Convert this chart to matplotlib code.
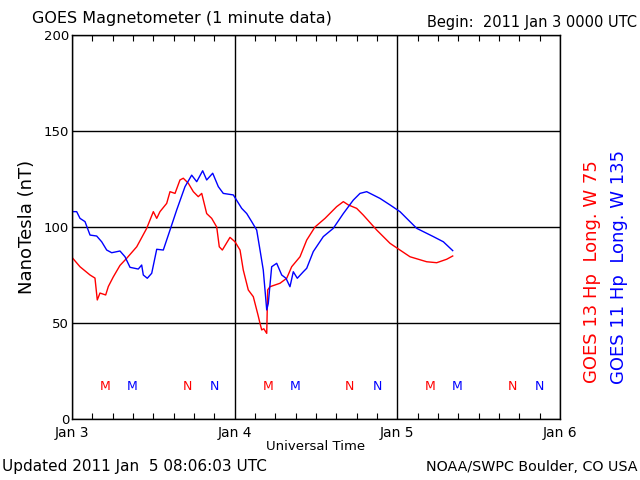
import matplotlib
matplotlib.use("Agg")
import matplotlib.pyplot as plt
import numpy as np

# hours since 2011 Jan 3 00:00 UTC
g13_hours = [0.04, 1.18, 2.66, 3.39, 3.73, 4.13, 4.97, 5.36, 6.09, 7.08, 8.07, 9.55, 11.02, 12.0, 12.5,
             12.98, 13.97, 14.46, 15.2, 15.93, 16.42, 17.16, 17.9, 18.63, 19.14, 19.87, 20.61, 21.35,
             21.73, 22.18, 23.31, 24.05, 24.79, 25.27, 26.01, 26.75, 27.44, 27.74, 27.99, 28.3, 28.73,
             28.87, 29.21, 30.69, 31.68, 32.41, 33.64, 34.63, 35.85, 37.33, 39.05, 40.03, 40.77, 42.0,
             42.98, 44.96, 46.92, 48.39, 49.87, 52.33, 53.81, 55.28, 56.17]
g13_values = [84, 79.3, 75, 73.4, 62, 65.6, 64.6, 69, 74, 80, 83.7, 89.7, 99.3, 108, 104.5,
              108, 112.3, 118.4, 117.5, 124.5, 125.4, 122.8, 118.4, 115.8, 117.5, 107, 104.5, 100,
              89.7, 88, 94.6, 92.3, 88, 77.6, 67.2, 63.7, 54.2, 49.8, 46.4, 47, 44.6,
              67.2, 68.9, 70.7, 73.3, 79.3, 84.5, 93.2, 100, 104.5, 110.6, 113.2, 111.5, 109.7,
              106.2, 98.4, 91.5, 88, 84.5, 81.9, 81.4, 83.2, 84.9]

g11_hours = [0.04, 0.69, 1.18, 1.92, 2.66, 3.64, 4.38, 5.12, 5.86, 7.08, 7.82, 8.56, 9.78, 10.28, 10.52,
             11.11, 11.76, 12.5, 13.47, 14.46, 15.45, 16.67, 17.66, 18.4, 19.28, 19.87, 20.76, 21.59,
             22.32, 23.8, 25.04, 25.78, 26.51, 27.25, 27.74, 28.22, 28.73, 28.96, 29.46, 30.2, 30.94,
             31.57, 32.16, 32.65, 33.24, 34.13, 34.63, 35.6, 37.08, 38.55, 40.03, 41.5, 42.49, 43.48,
             45.44, 46.92, 48.39, 49.38, 50.86, 53.31, 54.79, 56.17]
g11_values = [108, 108, 104.5, 102.8, 95.8, 95.3, 92.3, 88, 86.6, 87.5, 84.5, 79, 78.1, 80.2, 75,
              73.3, 75.9, 88.4, 88, 98.4, 108.9, 121, 127, 123.6, 129.3, 124.5, 128, 121,
              117.5, 116.7, 109.7, 107, 102.8, 98.4, 88, 77.6, 56.8, 60.2, 79.3, 81.1, 75,
              73.3, 68.9, 76.7, 73.3, 76.7, 78.5, 87.2, 95, 99.3, 107, 114, 117.5, 118.4,
              114.9, 111.5, 108, 104.5, 99.3, 95, 92.3, 87.7]

# local noon (N) and midnight (M) markers, hours since Jan 3 00 UTC
g13_marks = [(4.9, "M"), (17.0, "N"), (28.9, "M"), (41.0, "N"), (52.9, "M"), (65.0, "N")]
g11_marks = [(8.85, "M"), (21.0, "N"), (32.85, "M"), (45.0, "N"), (56.85, "M"), (69.0, "N")]
mark_level = 17

x_ticks = [0, 24, 48, 72]
x_labels = ["Jan 3", "Jan 4", "Jan 5", "Jan 6"]
y_ticks = [0, 50, 100, 150, 200]

RED = "#ff0000"
BLUE = "#0000ff"

fig = plt.figure(figsize=(6.4, 4.8), dpi=100)
ax = fig.add_axes([72/640, 61/480, 488/640, 384/480])

ax.plot(g13_hours, g13_values, color=RED, lw=1.0)
ax.plot(g11_hours, g11_values, color=BLUE, lw=1.0)

for h, t in g13_marks:
    ax.text(h, mark_level, t, color=RED, fontsize=9, ha="center", va="center")
for h, t in g11_marks:
    ax.text(h, mark_level, t, color=BLUE, fontsize=9, ha="center", va="center")

ax.set_xlim(0, 72)
ax.set_ylim(0, 200)
ax.set_xticks(x_ticks)
ax.set_xticklabels(x_labels, fontsize=10)
ax.set_xticks(np.arange(0, 73, 3), minor=True)
ax.set_yticks(y_ticks)
ax.set_yticklabels([str(v) for v in y_ticks], fontsize=9.5)
ax.tick_params(axis="x", which="both", direction="in", top=True, bottom=True, length=4, width=0.8, pad=5)
ax.tick_params(axis="x", which="major", length=0)
ax.tick_params(axis="y", which="both", length=0, pad=2)
ax.grid(True, which="major", color="black", lw=1.0)
for s in ax.spines.values():
    s.set_linewidth(1.0)

ax.set_xlabel("Universal Time", fontsize=9.5, labelpad=0)
ax.set_ylabel("NanoTesla (nT)", fontsize=13, labelpad=6)

fig.text(32/640, 1 - 18/480, "GOES Magnetometer (1 minute data)", fontsize=11.5, ha="left", va="center")
fig.text(637/640, 1 - 23/480, "Begin:  2011 Jan 3 0000 UTC", fontsize=10.5, ha="right", va="center")
fig.text(2/640, 1 - 467/480, "Updated 2011 Jan  5 08:06:03 UTC", fontsize=11, ha="left", va="center")
fig.text(638/640, 1 - 467/480, "NOAA/SWPC Boulder, CO USA", fontsize=10.3, ha="right", va="center")

fig.text(592/640, 1 - 272/480, "GOES 13 Hp  Long. W 75", color=RED, fontsize=13,
         rotation=90, ha="center", va="center")
fig.text(619/640, 1 - 267/480, "GOES 11 Hp  Long. W 135", color=BLUE, fontsize=13,
         rotation=90, ha="center", va="center")

fig.savefig("out.png", dpi=100)
